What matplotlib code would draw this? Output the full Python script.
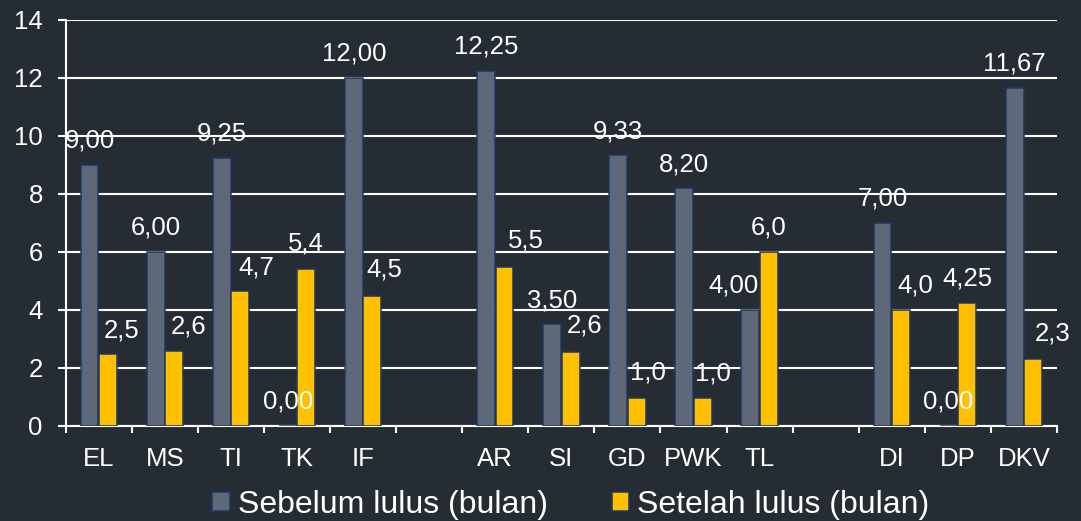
import matplotlib
matplotlib.use('Agg')
import matplotlib.pyplot as plt
from matplotlib.patches import Patch

# ---------------- data ----------------
categories = ['EL', 'MS', 'TI', 'TK', 'IF', '', 'AR', 'SI', 'GD', 'PWK', 'TL', '', 'DI', 'DP', 'DKV']
sebelum = [9.00, 6.00, 9.25, 0.00, 12.00, None, 12.25, 3.50, 9.33, 8.20, 4.00, None, 7.00, 0.00, 11.67]
setelah = [2.47, 2.57, 4.65, 5.40, 4.46, None, 5.46, 2.56, 0.97, 0.97, 6.00, None, 4.00, 4.25, 2.30]
sebelum_labels = ['9,00', '6,00', '9,25', '0,00', '12,00', '', '12,25', '3,50', '9,33', '8,20', '4,00', '', '7,00', '0,00', '11,67']
setelah_labels = ['2,5', '2,6', '4,7', '5,4', '4,5', '', '5,5', '2,6', '1,0', '1,0', '6,0', '', '4,0', '4,25', '2,3']
series_names = ['Sebelum lulus (bulan)', 'Setelah lulus (bulan)']
yticks = [0, 2, 4, 6, 8, 10, 12, 14]

# ---------------- layout (label nudges, pixels) ----------------
sebelum_dx = [0, 0, 0, 0, 0, 0, 0, 0, 0, 0, -17, 0, 0, 0, 0]
sebelum_dy = [17] * 15
setelah_dx = [14, 14, 16, 0, 12, 0, 21, 14, 11, 10, 0, 0, 14, 0, 19]
setelah_dy = [17, 18, 16, 19, 20, 0, 20, 19, 18, 17, 17, 0, 17, 17, 19]

BG = '#262c34'
GREY = '#5f6878'
YELLOW = '#ffc000'
EDGE = '#1f3860'
WHITE = '#ffffff'
FS = 18.5

plt.rcParams['font.family'] = ['Liberation Sans', 'DejaVu Sans']

fig = plt.figure(figsize=(10.81, 5.21), dpi=100, facecolor=BG)
ax = fig.add_axes([0.06078, 0.18292, 0.91702, 0.77870])
ax.set_facecolor(BG)

bw = 0.27
off = 0.14
for i, (a, b) in enumerate(zip(sebelum, setelah)):
    if a is not None:
        ax.bar(i - off, a, width=bw, color=GREY, edgecolor=EDGE, linewidth=1.1, zorder=3)
        ax.annotate(sebelum_labels[i], xy=(i - off, a), xytext=(sebelum_dx[i], sebelum_dy[i]),
                    textcoords='offset pixels', ha='center', va='baseline',
                    color=WHITE, fontsize=FS, zorder=4)
    if b is not None:
        ax.bar(i + off, b, width=bw, color=YELLOW, edgecolor=EDGE, linewidth=1.1, zorder=3)
        ax.annotate(setelah_labels[i], xy=(i + off, b), xytext=(setelah_dx[i], setelah_dy[i]),
                    textcoords='offset pixels', ha='center', va='baseline',
                    color=WHITE, fontsize=FS, zorder=4)

ax.set_xlim(-0.5, len(categories) - 0.5)
ax.set_ylim(0, 14)
ax.set_yticks(yticks)
ax.set_yticklabels([str(t) for t in yticks])
ax.set_xticks(range(len(categories)))
ax.set_xticklabels(categories)
ax.set_xticks([i - 0.5 for i in range(len(categories) + 1)], minor=True)

ax.yaxis.grid(True, color=WHITE, linewidth=1.5, zorder=0)
ax.set_axisbelow(True)

for s in ['top', 'right']:
    ax.spines[s].set_visible(False)
for s in ['left', 'bottom']:
    ax.spines[s].set_color(WHITE)
    ax.spines[s].set_linewidth(1.5)

ax.tick_params(axis='y', colors=WHITE, labelcolor=WHITE, labelsize=FS, length=5.5, width=1.5, pad=11)
ax.tick_params(axis='x', which='major', length=0, labelcolor=WHITE, labelsize=FS, pad=15.5)
ax.tick_params(axis='x', which='minor', length=5, width=1.5, color=WHITE, direction='out')

handles = [Patch(facecolor=GREY, edgecolor=EDGE, linewidth=1.1),
           Patch(facecolor=YELLOW, edgecolor=EDGE, linewidth=1.1)]
fig.legend(handles, series_names, loc='center', bbox_to_anchor=(0.528, 0.031), ncol=2,
           frameon=False, fontsize=23, handlelength=0.55, handleheight=0.55,
           handletextpad=0.25, columnspacing=2.0, labelcolor=WHITE)

fig.savefig('out.png', dpi=100, facecolor=BG)
